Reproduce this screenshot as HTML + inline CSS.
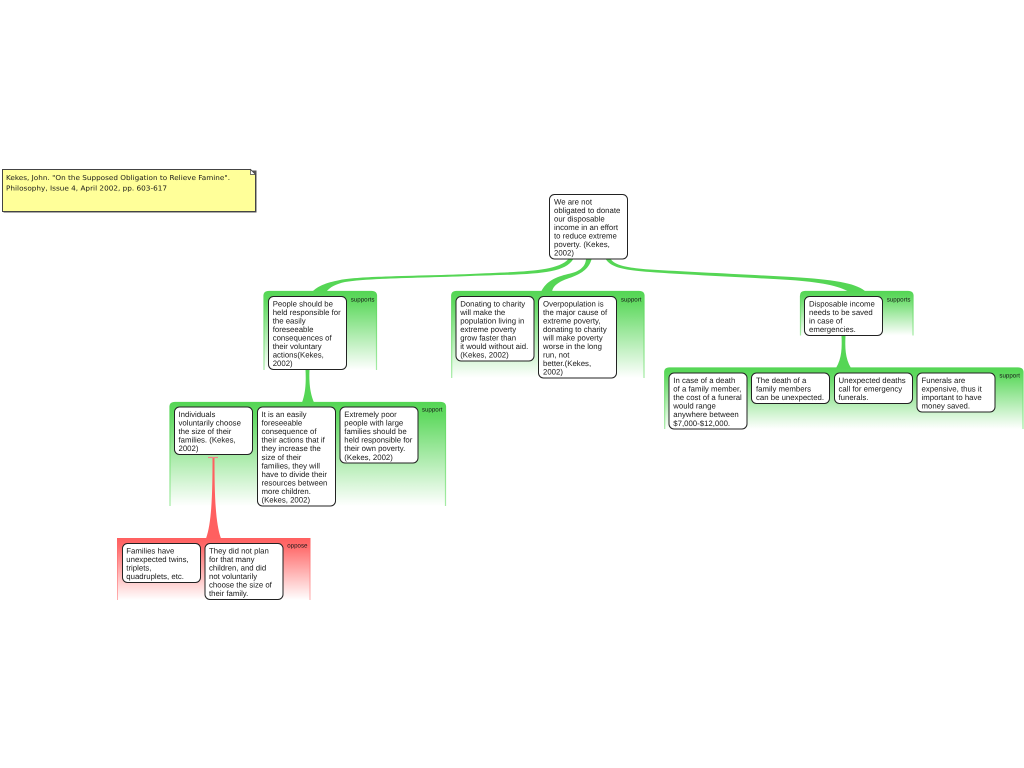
<!DOCTYPE html>
<html>
<head>
<meta charset="utf-8">
<style>
html,body{margin:0;padding:0;background:#fff;width:1024px;height:768px;overflow:hidden}
svg{display:block}
text{font-family:"Liberation Sans",sans-serif;font-size:7.8px;fill:#1a1a1a;text-rendering:geometricPrecision;filter:blur(.25px)}
.l{font-size:6.2px;text-anchor:end}
.n{font-family:"DejaVu Sans",sans-serif;font-size:6.8px}
rect.b{fill:#fff;stroke:#222;stroke-width:1}
</style>
</head>
<body>
<svg xmlns="http://www.w3.org/2000/svg" width="1024" height="768" viewBox="0 0 1024 768">
<defs>
<linearGradient id="gf" x1="0" y1="0" x2="0" y2="1">
<stop offset="0" stop-color="#55d655"/><stop offset=".12" stop-color="#60d960"/><stop offset="1" stop-color="#fff"/>
</linearGradient>
<linearGradient id="gs" x1="0" y1="0" x2="0" y2="1">
<stop offset="0" stop-color="#55d655"/><stop offset="1" stop-color="#a5eba5"/>
</linearGradient>
<linearGradient id="rf" x1="0" y1="0" x2="0" y2="1">
<stop offset="0" stop-color="#ff6060"/><stop offset=".12" stop-color="#ff6a6a"/><stop offset="1" stop-color="#fff"/>
</linearGradient>
<linearGradient id="rs" x1="0" y1="0" x2="0" y2="1">
<stop offset="0" stop-color="#ff6060"/><stop offset="1" stop-color="#ffb0b0"/>
</linearGradient>
</defs>

<!-- note -->
<rect x="3.5" y="170.5" width="253" height="42" fill="#555"/>
<path d="M2.5 169.5H250.5L255.5 174.5V211.5H2.5Z" fill="#ffff99" stroke="#444" stroke-width="1"/>
<path d="M250.5 169.5V174.5H255.5Z" fill="#fff" stroke="#444" stroke-width=".7"/>
<text class="n" x="6" y="180" textLength="224" lengthAdjust="spacingAndGlyphs">Kekes, John. "On the Supposed Obligation to Relieve Famine".</text>
<text class="n" x="6" y="190.5" textLength="161" lengthAdjust="spacingAndGlyphs">Philosophy, Issue 4, April 2002, pp. 603-617</text>

<!-- groups -->
<path d="M264 370V296Q264 291.5 269 291.5H371.5Q376.5 291.5 376.5 296V370Z" fill="url(#gf)"/>
<path d="M264 370V296Q264 291.5 269 291.5H371.5Q376.5 291.5 376.5 296V370" fill="none" stroke="url(#gs)" stroke-width="1.2"/>
<path d="M451.7 378V296Q451.7 291.5 456.5 291.5H639Q644 291.5 644 296V378Z" fill="url(#gf)"/>
<path d="M451.7 378V296Q451.7 291.5 456.5 291.5H639Q644 291.5 644 296V378" fill="none" stroke="url(#gs)" stroke-width="1.2"/>
<path d="M800.5 335.5V296Q800.5 291.5 805 291.5H908Q913 291.5 913 296V335.5Z" fill="url(#gf)"/>
<path d="M800.5 335.5V296Q800.5 291.5 805 291.5H908Q913 291.5 913 296V335.5" fill="none" stroke="url(#gs)" stroke-width="1.2"/>
<path d="M664.7 429V372.5Q664.7 368 669.5 368H1018Q1023 368 1023 372.5V429Z" fill="url(#gf)"/>
<path d="M664.7 429V372.5Q664.7 368 669.5 368H1018Q1023 368 1023 372.5V429" fill="none" stroke="url(#gs)" stroke-width="1.2"/>
<path d="M170 506V407Q170 402.5 175 402.5H440.5Q445.5 402.5 445.5 407V506Z" fill="url(#gf)"/>
<path d="M170 506V407Q170 402.5 175 402.5H440.5Q445.5 402.5 445.5 407V506" fill="none" stroke="url(#gs)" stroke-width="1.2"/>
<path d="M117.5 600V538.5H310V600Z" fill="url(#rf)"/>
<path d="M117.5 600V538.5H310V600" fill="none" stroke="url(#rs)" stroke-width="1"/>

<!-- connectors -->
<g fill="#55d655">
<path d="M568 259.5C556 272 520 271.5 470 274C420 276 360 276 340 280C325 283 318 286 312 292H326C330 287 336 284 345 282C370 278 420 278 470 276C530 274 563 275 573 259.5Z"/>
<path d="M586 259.5C585 268 578 272 568 274C556 277 546 281 541 292H552C553 285 560 281 571 277.5C583 273 589 268 591.5 259.5Z"/>
<path d="M606 259.5C612 268 625 270 650 272C690 275 740 277 790 280C820 282 840 286 849 292H866C858 284 838 280 800 277.5C740 274 690 272 650 269.5C630 268 616 266 611 259.5Z"/>
<path d="M305.5 369.5C306 380 306 392 302 402.5H314C309.5 392 309 380 309.5 369.5Z"/>
<path d="M841.5 335.5C842 347 842 358 836 368H851C845 358 845 347 845.5 335.5Z"/>
</g>
<path d="M212.5 458C212.5 490 212 522 206 538.5H221C215 522 214.5 490 214.5 458Z" fill="#ff6060"/>
<path d="M208 457.5H218" stroke="#e88" stroke-width="1.2"/>

<!-- boxes -->
<rect class="b" x="549.5" y="194.5" width="78" height="64.5" rx="5"/>
<rect class="b" x="268.5" y="296.5" width="78" height="73" rx="5"/>
<rect class="b" x="456" y="296.5" width="78" height="64.5" rx="5"/>
<rect class="b" x="538.5" y="296.5" width="78" height="81.5" rx="5"/>
<rect class="b" x="804.5" y="296.5" width="78" height="39" rx="5"/>
<rect class="b" x="669" y="373" width="78" height="56" rx="5"/>
<rect class="b" x="751.5" y="373" width="78" height="30.5" rx="5"/>
<rect class="b" x="834.5" y="373" width="78" height="30.5" rx="5"/>
<rect class="b" x="917" y="373" width="78" height="39" rx="5"/>
<rect class="b" x="174.5" y="407" width="78" height="47.5" rx="5"/>
<rect class="b" x="257.5" y="407" width="78" height="99" rx="5"/>
<rect class="b" x="340" y="407" width="78" height="56" rx="5"/>
<rect class="b" x="122.5" y="543.5" width="78" height="39" rx="5"/>
<rect class="b" x="205" y="543.5" width="78" height="56" rx="5"/>

<!-- labels -->
<text class="l" x="374.5" y="301.5">supports</text>
<text class="l" x="641.5" y="301.5">support</text>
<text class="l" x="910.5" y="301.5">supports</text>
<text class="l" x="1020" y="377.5">support</text>
<text class="l" x="442.5" y="411.5">support</text>
<text class="l" x="307.5" y="547.5">oppose</text>

<!-- box text -->
<text x="554" y="204.3">We are not<tspan x="554" dy="8.55">obligated to donate</tspan><tspan x="554" dy="8.55">our disposable</tspan><tspan x="554" dy="8.55">income in an effort</tspan><tspan x="554" dy="8.55">to reduce extreme</tspan><tspan x="554" dy="8.55">poverty. (Kekes,</tspan><tspan x="554" dy="8.55">2002)</tspan></text>

<text x="272.7" y="306.3">People should be<tspan x="272.7" dy="8.55">held responsible for</tspan><tspan x="272.7" dy="8.55">the easily</tspan><tspan x="272.7" dy="8.55">foreseeable</tspan><tspan x="272.7" dy="8.55">consequences of</tspan><tspan x="272.7" dy="8.55">their voluntary</tspan><tspan x="272.7" dy="8.55">actions(Kekes,</tspan><tspan x="272.7" dy="8.55">2002)</tspan></text>

<text x="460.2" y="306.3">Donating to charity<tspan x="460.2" dy="8.55">will make the</tspan><tspan x="460.2" dy="8.55">population living in</tspan><tspan x="460.2" dy="8.55">extreme poverty</tspan><tspan x="460.2" dy="8.55">grow faster than</tspan><tspan x="460.2" dy="8.55">it would without aid.</tspan><tspan x="460.2" dy="8.55">(Kekes, 2002)</tspan></text>

<text x="543" y="306.3">Overpopulation is<tspan x="543" dy="8.55">the major cause of</tspan><tspan x="543" dy="8.55">extreme poverty,</tspan><tspan x="543" dy="8.55">donating to charity</tspan><tspan x="543" dy="8.55">will make poverty</tspan><tspan x="543" dy="8.55">worse in the long</tspan><tspan x="543" dy="8.55">run, not</tspan><tspan x="543" dy="8.55">better.(Kekes,</tspan><tspan x="543" dy="8.55">2002)</tspan></text>

<text x="809" y="306.3">Disposable income<tspan x="809" dy="8.55">needs to be saved</tspan><tspan x="809" dy="8.55">in case of</tspan><tspan x="809" dy="8.55">emergencies.</tspan></text>

<text x="673.3" y="383">In case of a death<tspan x="673.3" dy="8.55">of a family member,</tspan><tspan x="673.3" dy="8.55">the cost of a funeral</tspan><tspan x="673.3" dy="8.55">would range</tspan><tspan x="673.3" dy="8.55">anywhere between</tspan><tspan x="673.3" dy="8.55">$7,000-$12,000.</tspan></text>

<text x="756" y="383">The death of a<tspan x="756" dy="8.55">family members</tspan><tspan x="756" dy="8.55">can be unexpected.</tspan></text>

<text x="838.5" y="383">Unexpected deaths<tspan x="838.5" dy="8.55">call for emergency</tspan><tspan x="838.5" dy="8.55">funerals.</tspan></text>

<text x="921.5" y="383">Funerals are<tspan x="921.5" dy="8.55">expensive, thus it</tspan><tspan x="921.5" dy="8.55">important to have</tspan><tspan x="921.5" dy="8.55">money saved.</tspan></text>

<text x="178.5" y="417">Individuals<tspan x="178.5" dy="8.55">voluntarily choose</tspan><tspan x="178.5" dy="8.55">the size of their</tspan><tspan x="178.5" dy="8.55">families. (Kekes,</tspan><tspan x="178.5" dy="8.55">2002)</tspan></text>

<text x="261.5" y="417">It is an easily<tspan x="261.5" dy="8.55">foreseeable</tspan><tspan x="261.5" dy="8.55">consequence of</tspan><tspan x="261.5" dy="8.55">their actions that if</tspan><tspan x="261.5" dy="8.55">they increase the</tspan><tspan x="261.5" dy="8.55">size of their</tspan><tspan x="261.5" dy="8.55">families, they will</tspan><tspan x="261.5" dy="8.55">have to divide their</tspan><tspan x="261.5" dy="8.55">resources between</tspan><tspan x="261.5" dy="8.55">more children.</tspan><tspan x="261.5" dy="8.55">(Kekes, 2002)</tspan></text>

<text x="344.3" y="417">Extremely poor<tspan x="344.3" dy="8.55">people with large</tspan><tspan x="344.3" dy="8.55">families should be</tspan><tspan x="344.3" dy="8.55">held responsible for</tspan><tspan x="344.3" dy="8.55">their own poverty.</tspan><tspan x="344.3" dy="8.55">(Kekes, 2002)</tspan></text>

<text x="126.3" y="553.3">Families have<tspan x="126.3" dy="8.55">unexpected twins,</tspan><tspan x="126.3" dy="8.55">triplets,</tspan><tspan x="126.3" dy="8.55">quadruplets, etc.</tspan></text>

<text x="209" y="553.3">They did not plan<tspan x="209" dy="8.55">for that many</tspan><tspan x="209" dy="8.55">children, and did</tspan><tspan x="209" dy="8.55">not voluntarily</tspan><tspan x="209" dy="8.55">choose the size of</tspan><tspan x="209" dy="8.55">their family.</tspan></text>
</svg>
</body>
</html>
